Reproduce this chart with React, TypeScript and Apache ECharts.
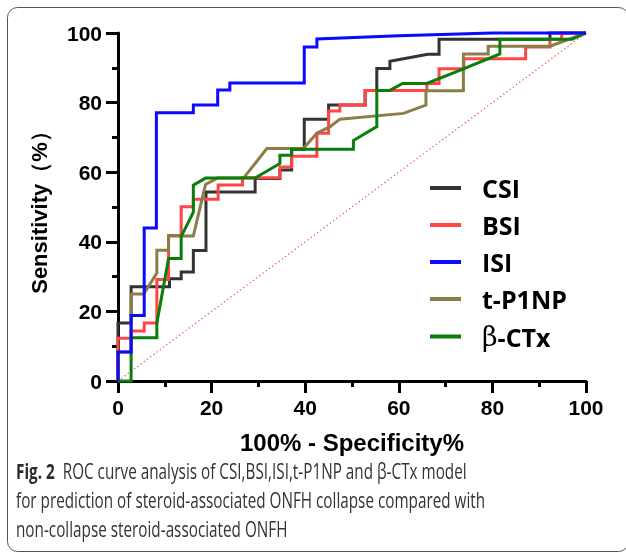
import React, { useEffect, useRef } from "react";
import * as echarts from "echarts";

const seriesNames = ["CSI", "BSI", "ISI", "t-P1NP", "β-CTx"];
const seriesColors = ["#333333", "#ff4545", "#0a0aff", "#8c7d46", "#0b7d0b"];
const seriesZ = [3, 4, 8, 5, 6];

const csiPoints = [
  [0, 0], [0, 16.7], [2.8, 16.7], [2.8, 27.1], [11, 27.1], [11, 29.4], [13.5, 29.4], [13.5, 31.3],
  [16.1, 31.3], [16.1, 37.5], [18.8, 37.5], [18.8, 54.3], [29.3, 54.3], [29.3, 58.2], [34.6, 58.2],
  [34.6, 60.6], [37.1, 60.6], [37.1, 66.6], [39.8, 66.6], [39.8, 75.2], [45, 75.2], [45, 79.3],
  [52.8, 79.3], [52.8, 83.5], [55.3, 83.5], [55.3, 89.8], [58.1, 89.8], [58.1, 91.9], [66.2, 93.9],
  [68.6, 93.9], [68.6, 98.2], [92.3, 98.2], [92.3, 100], [100, 100],
];
const bsiPoints = [
  [0, 0], [0, 12.3], [2.8, 12.3], [2.8, 14.4], [5.6, 14.4], [5.6, 16.7], [8.3, 16.7], [8.3, 29.2],
  [10.8, 29.2], [10.8, 41.8], [13.5, 41.8], [13.5, 50.1], [16.1, 50.1], [16.1, 52.2], [21.4, 52.2],
  [21.4, 56.3], [26.6, 56.3], [26.6, 58.4], [34.6, 58.4], [34.6, 61.5], [37.1, 61.5], [37.1, 64.6],
  [42.5, 64.6], [42.5, 71.2], [45, 71.2], [45, 77.6], [47.4, 77.6], [47.4, 79.3], [52.8, 79.3],
  [52.8, 83.5], [66, 83.5], [66, 85.5], [68.6, 85.5], [68.6, 89.7], [73.9, 89.7], [73.9, 92.6],
  [87.1, 92.6], [87.1, 96], [92.3, 96], [92.3, 98.2], [94.8, 98.2], [94.8, 100], [100, 100],
];
const isiPoints = [
  [0, 0], [0, 8.3], [2.8, 8.3], [2.8, 18.8], [5.6, 18.8], [5.6, 44], [8.2, 44], [8.2, 77.1],
  [16.1, 77.1], [16.1, 79.3], [21.3, 79.3], [21.3, 83.6], [23.9, 83.6], [23.9, 85.6], [39.8, 85.6],
  [39.8, 96], [42.5, 96], [42.5, 98.3], [60, 99.2], [80, 100], [100, 100],
];
const tp1npPoints = [
  [0, 0], [0, 8.3], [2.8, 8.3], [2.8, 25], [5.5, 25], [8.3, 31], [8.3, 37.6], [10.8, 37.6],
  [10.8, 41.7], [16.1, 41.7], [18.7, 56.5], [21.2, 58.3], [26.8, 58.3], [29.3, 62.5], [31.8, 66.8],
  [39.6, 66.8], [42.5, 71.2], [45.3, 73.1], [47.4, 75.2], [61, 76.9], [65.8, 79.3], [65.8, 83.4],
  [73.8, 83.4], [73.8, 94], [79.1, 94], [79.1, 96.2], [92.3, 96.2], [100, 100],
];
const bctxPoints = [
  [0, 0], [2.8, 0], [2.8, 12.4], [8.3, 12.4], [8.3, 16.6], [10.8, 35.2], [13.5, 35.2], [13.5, 41.5],
  [16.1, 48.5], [16.1, 56.3], [18.7, 58.3], [29.3, 58.3], [34.6, 62.5], [34.6, 64.9], [37.1, 64.9],
  [37.1, 66.6], [50.3, 66.6], [50.3, 69.1], [55.3, 73.1], [55.3, 83.5], [58.1, 83.5], [60.8, 85.5],
  [66, 85.5], [73.8, 89.7], [81.6, 94], [81.6, 98.2], [97, 98.2], [100, 100],
];
const referencePoints = [[0, 0], [100, 100]];
const xTickLabels = ["0", "20", "40", "60", "80", "100"];
const yTickLabels = ["0", "20", "40", "60", "80", "100"];

const captionLines = [
  ["Fig. 2", "  ROC curve analysis of CSI,BSI,ISI,t-P1NP and β-CTx model"],
  ["", "for prediction of steroid-associated ONFH collapse compared with"],
  ["", "non-collapse steroid-associated ONFH"],
];

const allPoints = [csiPoints, bsiPoints, isiPoints, tp1npPoints, bctxPoints];

export default function App() {
  const ref = useRef<HTMLDivElement>(null);
  useEffect(() => {
    document.body.style.margin = "0";
    const chart = echarts.init(ref.current!, null, { renderer: "svg" });
    const axisCommon = {
      type: "value",
      min: 0,
      max: 100,
      interval: 20,
      axisLine: { show: true, onZero: false, lineStyle: { color: "#000", width: 3 } },
      axisTick: { show: true, length: 12, lineStyle: { color: "#000", width: 3 } },
      minorTick: { show: true, splitNumber: 2, length: 6, lineStyle: { color: "#000", width: 3 } },
      splitLine: { show: false },
      minorSplitLine: { show: false },
    };
    chart.setOption({
      animation: false,
      grid: { left: 118, right: 40, top: 33, bottom: 173, containLabel: false },
      legend: {
        orient: "vertical",
        left: 430,
        top: 175,
        padding: 0,
        itemWidth: 31,
        itemHeight: 4,
        itemGap: 11,
        icon: "rect",
        data: seriesNames,
        formatter: (name: string) => (name === "β-CTx" ? "{g|β}{t|-CTx}" : name),
        textStyle: {
          fontFamily: "Open Sans",
          fontWeight: "bold",
          fontSize: 25,
          lineHeight: 26,
          color: "#000",
          padding: [0, 0, 0, 16],
          rich: {
            g: { fontFamily: "DejaVu Serif", fontWeight: "normal", fontSize: 27, color: "#000", lineHeight: 26 },
            t: { fontFamily: "Open Sans", fontWeight: "bold", fontSize: 25, color: "#000", lineHeight: 26 },
          },
        },
      },
      xAxis: {
        ...axisCommon,
        axisLabel: {
          color: "#000",
          fontFamily: "Liberation Sans, Arial, sans-serif",
          fontWeight: "bold",
          fontSize: 21,
          margin: 16,
          formatter: (v: number) => xTickLabels[Math.round(v / 20)] ?? "",
        },
        name: "100% - Specificity%",
        nameLocation: "middle",
        nameGap: 49,
        nameTextStyle: { color: "#000", fontFamily: "Liberation Sans, Arial, sans-serif", fontWeight: "bold", fontSize: 24 },
      },
      yAxis: {
        ...axisCommon,
        axisLabel: {
          color: "#000",
          fontFamily: "Liberation Sans, Arial, sans-serif",
          fontWeight: "bold",
          fontSize: 21,
          margin: 16,
          formatter: (v: number) => yTickLabels[Math.round(v / 20)] ?? "",
        },
        name: "Sensitivity（%）",
        nameLocation: "middle",
        nameGap: 68,
        nameTextStyle: { color: "#000", fontFamily: "Liberation Sans, Arial, sans-serif", fontWeight: "bold", fontSize: 22 },
      },
      series: [
        {
          name: "reference",
          type: "line",
          data: referencePoints,
          showSymbol: false,
          symbol: "none",
          silent: true,
          clip: false,
          lineStyle: { color: "#e06a6a", width: 1.2, type: [1.5, 2.5] },
          z: 1,
        },
        ...seriesNames.map((name, i) => ({
          name,
          type: "line",
          data: allPoints[i],
          showSymbol: false,
          symbol: "none",
          clip: false,
          itemStyle: { color: seriesColors[i] },
          lineStyle: { color: seriesColors[i], width: 3, join: "miter" },
          z: seriesZ[i],
        })),
      ],
      graphic: [
        {
          type: "rect",
          shape: { x: 7.5, y: 7.5, width: 621, height: 544, r: 10 },
          style: { fill: "none", stroke: "#555", lineWidth: 1 },
          silent: true,
        },
        ...captionLines.map((line, i) => ({
          type: "text",
          x: 16,
          y: 470 + i * 29,
          style: {
            text: (line[0] ? "{b|" + line[0] + "}" : "") + "{r|" + line[1] + "}",
            verticalAlign: "middle",
            rich: {
              b: { fontFamily: "Open Sans", fontWeight: "bold", fontSize: 21, fill: "#2b2b2b" },
              r: { fontFamily: "Open Sans", fontWeight: "normal", fontSize: 21, fill: "#333" },
            },
          },
          scaleX: 0.728,
        })),
      ],
    });
    return () => chart.dispose();
  }, []);
  return <div ref={ref} style={{ position: "fixed", left: 0, top: 0, width: 626, height: 554 }} />;
}
